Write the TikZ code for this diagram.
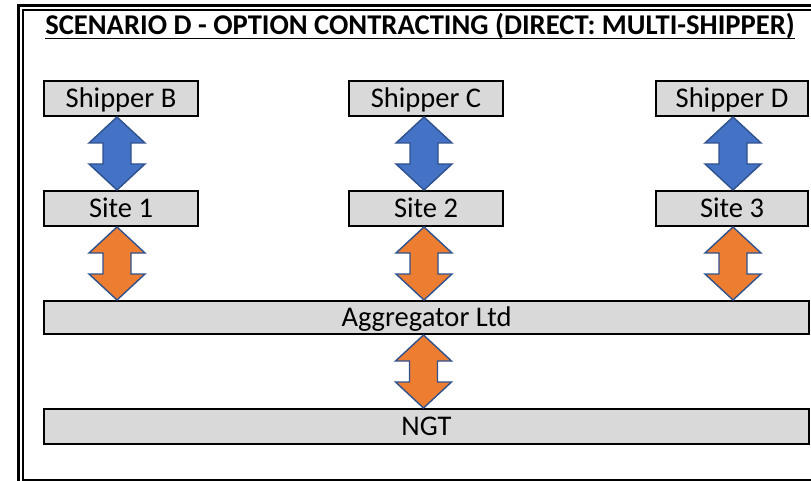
\documentclass[tikz,border=0pt]{standalone}
\usepackage{fontspec}
\setmainfont{Carlito}
\usetikzlibrary{calc}
\definecolor{boxgray}{HTML}{D9D9D9}
\definecolor{arrblue}{HTML}{4472C4}
\definecolor{arrorange}{HTML}{ED7D31}
\definecolor{arredge}{HTML}{2F528F}
\newcommand\dblarr[4]{%
 \path[arrowsty,fill=#4] let \p1=($(#1.south)+(#3,0)$), \p2=(#2.north) in
  (\x1,\y1) -- (\x1+28pt,\y1-26pt) -- (\x1+14pt,\y1-26pt) -- (\x1+14pt,\y2+26pt) -- (\x1+28pt,\y2+26pt)
  -- (\x1,\y2) -- (\x1-28pt,\y2+26pt) -- (\x1-14pt,\y2+26pt) -- (\x1-14pt,\y1-26pt) -- (\x1-28pt,\y1-26pt) -- cycle;}
\begin{document}
\begin{tikzpicture}[x=1pt,y=-1pt,
  box/.style={draw=black,line width=2pt,fill=boxgray,inner sep=0pt,anchor=north west,
    font=\fontsize{28.5}{32}\selectfont,text height=18pt,text depth=0pt},
  arrowsty/.style={draw=arredge,line width=1.4pt,line join=miter}]
\useasboundingbox (0,0) rectangle (811,481);
\clip (0,0) rectangle (811,481);
\draw[line width=3pt] (18.5,5.5) rectangle (1000,484);
\draw[line width=1.6pt] (23,10) rectangle (1000,479.8);
\node[inner sep=0pt,font=\fontsize{28.6}{32}\selectfont\bfseries,anchor=base] (title) at (420,34.5) {SCENARIO D - OPTION CONTRACTING (DIRECT: MULTI-SHIPPER)};
\draw[line width=1.5pt] ($(title.base west)+(0,4)$) -- ($(title.base east)+(0,4)$);
\node[box,minimum width=154,minimum height=35] (sB) at (43,80) {Shipper B};
\node[box,minimum width=154,minimum height=35] (sC) at (348,80) {Shipper C};
\node[box,minimum width=152,minimum height=35] (sD) at (655,80) {Shipper D};
\node[box,minimum width=154,minimum height=35] (s1) at (43,190) {Site 1};
\node[box,minimum width=154,minimum height=35] (s2) at (348,190) {Site 2};
\node[box,minimum width=152,minimum height=35] (s3) at (655,190) {Site 3};
\node[box,minimum width=765,minimum height=33] (agg) at (43,300) {Aggregator Ltd};
\node[box,minimum width=765,minimum height=35] (ngt) at (43,408) {NGT};
\dblarr{sB}{s1}{-4}{arrblue}
\dblarr{sC}{s2}{-2}{arrblue}
\dblarr{sD}{s3}{1}{arrblue}
\dblarr{s1}{agg}{-4}{arrorange}
\dblarr{s2}{agg}{-2}{arrorange}
\dblarr{s3}{agg}{1}{arrorange}
\dblarr{agg}{ngt}{-3}{arrorange}
\end{tikzpicture}
\end{document}
